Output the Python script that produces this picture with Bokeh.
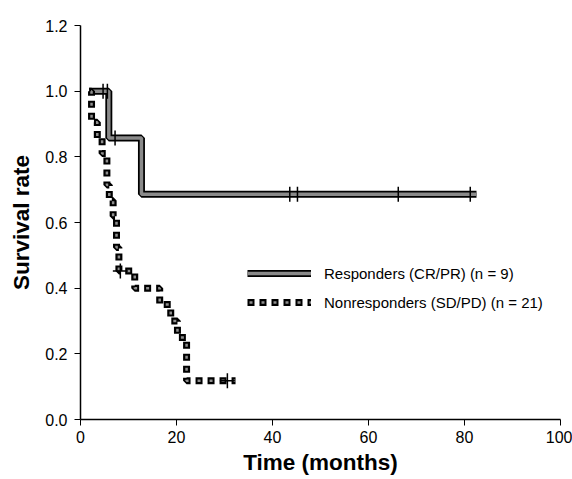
import math
from bokeh.plotting import figure
from bokeh.models import Range1d, Legend, LegendItem, PrintfTickFormatter
from bokeh.embed import file_html
from bokeh.resources import INLINE

# Responders (CR/PR), n = 9 : Kaplan-Meier steps
resp_time = [1.8, 5.9, 12.7, 82.5]
resp_surv = [1.0, 0.857, 0.686, 0.686]
resp_cens_time = [4.7, 5.6, 7.2, 43.6, 45.2, 66.2, 81.2]
resp_cens_surv = [1.0, 1.0, 0.857, 0.686, 0.686, 0.686, 0.686]

# Nonresponders (SD/PD), n = 21
nonr_time = [1.8, 2.3, 3.5, 4.5, 5.5, 6.0, 6.8, 7.5, 8.0, 11.3, 16.5, 18.8, 20.2, 22.1, 32.3]
nonr_surv = [1.0, 0.905, 0.857, 0.810, 0.714, 0.667, 0.619, 0.524, 0.452, 0.40, 0.35, 0.30, 0.25, 0.118, 0.118]
nonr_cens_time = [8.3, 30.6]
nonr_cens_surv = [0.452, 0.118]

x_ticks = [0, 20, 40, 60, 80, 100]
y_ticks = [0.0, 0.2, 0.4, 0.6, 0.8, 1.0, 1.2]
labels = ["Responders (CR/PR) (n = 9)", "Nonresponders (SD/PD) (n = 21)"]

FONT = "Liberation Sans"

p = figure(width=572, height=479, output_backend="svg", toolbar_location=None,
           x_range=Range1d(0, 100), y_range=Range1d(0, 1.2),
           min_border_left=80, min_border_right=12, min_border_top=25, min_border_bottom=60)
p.outline_line_color = None
p.xgrid.visible = False
p.ygrid.visible = False
p.background_fill_color = "white"
p.border_fill_color = "white"

for ax in (p.xaxis[0], p.yaxis[0]):
    ax.axis_line_color = "black"
    ax.axis_line_width = 1.5
    ax.major_tick_line_color = "black"
    ax.major_tick_line_width = 1
    ax.major_tick_out = 6
    ax.major_tick_in = 0
    ax.minor_tick_line_color = None
    ax.major_label_text_font = FONT
    ax.major_label_text_font_size = "16px"
    ax.major_label_text_color = "black"
    ax.axis_label_text_font = FONT
    ax.axis_label_text_font_style = "bold"
    ax.axis_label_text_font_size = "22.5px"
    ax.axis_label_text_color = "black"

p.xaxis.ticker = x_ticks
p.yaxis.ticker = y_ticks
p.yaxis.formatter = PrintfTickFormatter(format="%.1f")
p.xaxis.axis_label = "Time (months)"
p.yaxis.axis_label = "Survival rate"
p.xaxis.major_label_standoff = 5
p.xaxis.axis_label_standoff = 4
p.yaxis.major_label_standoff = 7
p.yaxis.axis_label_standoff = 8

# Responders: thick gray line with black outline
r1b = p.step(resp_time, resp_surv, mode="after", line_color="black", line_width=7)
r1g = p.step(resp_time, resp_surv, mode="after", line_color="#8a8a8a", line_width=3.5)

# Nonresponders: square-dotted line
r2b = p.step(nonr_time, nonr_surv, mode="after", line_color="black", line_width=7,
             line_dash="7 5")
r2g = p.step(nonr_time, nonr_surv, mode="after", line_color="#8f8f8f", line_width=2.5,
             line_dash="3 9", line_dash_offset=10)

# Censor marks
p.scatter(resp_cens_time, resp_cens_surv, marker="dash", angle=math.pi / 2, size=15,
          line_color="black", line_width=1.5)
p.scatter(nonr_cens_time, nonr_cens_surv, marker="cross", size=15,
          line_color="black", line_width=1.5)

legend = Legend(items=[LegendItem(label=labels[0], renderers=[r1b, r1g]),
                       LegendItem(label=labels[1], renderers=[r2b, r2g])],
                location=(167, 107))
legend.background_fill_alpha = 0
legend.border_line_alpha = 0
legend.glyph_width = 64
legend.glyph_height = 20
legend.label_height = 20
legend.spacing = 9
legend.padding = 0
legend.margin = 0
legend.label_standoff = 13
legend.label_text_font = FONT
legend.label_text_font_size = "15px"
legend.label_text_color = "black"
p.add_layout(legend)

open("out.html", "w").write(file_html(p, INLINE))
